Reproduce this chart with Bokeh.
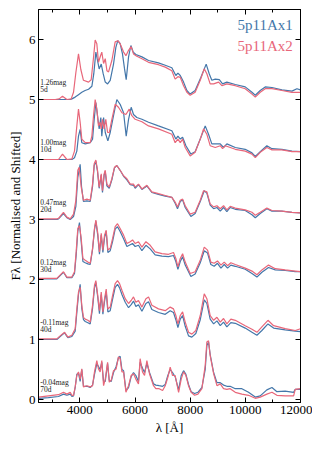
from bokeh.plotting import figure
from bokeh.models import (ColumnDataSource, Range1d, LinearAxis, SingleIntervalTicker, Label,
                          CustomJSTickFormatter)
from bokeh.core.properties import value
from bokeh.embed import file_html
from bokeh.resources import INLINE

# ---- data: (wavelength [A], normalised flux) ----
ax1_5d = [(2500,0),(3650,0),(3710,0.01),(3830,0.04),(3950,0.08),(4070,0.12),(4190,0.15),(4315,0.17),(4435,0.22),(4505,0.43),(4580,0.79),(4640,0.65),(4700,0.51),(4775,0.59),(4845,0.43),(4920,0.29),(5005,0.26),(5100,0.32),(5220,0.59),(5305,0.87),(5375,0.98),(5460,0.93),(5545,0.76),(5620,0.51),(5680,0.33),(5765,0.71),(5850,0.9),(5935,0.79),(6030,0.75),(6250,0.71),(6490,0.65),(6850,0.61),(7095,0.57),(7335,0.53),(7480,0.4),(7555,0.44),(7640,0.4),(7760,0.29),(7880,0.15),(8000,0.09),(8180,0.15),(8390,0.37),(8580,0.59),(8690,0.43),(8785,0.32),(8910,0.34),(9055,0.33),(9175,0.26),(9330,0.29),(9635,0.25),(9995,0.21),(10240,0.12),(10360,0.07),(10540,0.15),(10720,0.21),(10965,0.2),(11325,0.16),(11690,0.14),(11870,0.18),(12000,0.16)]
ax2_5d = [(2500,0),(3105,0),(3250,0.01),(3370,0.055),(3530,0),(3685,0.01),(3770,0.12),(3855,0.45),(3950,0.76),(4035,0.5),(4130,0.32),(4315,0.29),(4410,0.33),(4495,0.7),(4555,0.99),(4615,0.93),(4675,0.62),(4750,0.73),(4795,0.79),(4860,0.6),(4920,0.68),(4980,0.48),(5040,0.46),(5160,0.65),(5280,0.96),(5375,0.98),(5460,0.93),(5585,0.79),(5670,0.73),(5765,0.82),(5860,0.88),(5945,0.76),(6065,0.72),(6250,0.68),(6490,0.62),(6850,0.58),(7095,0.54),(7335,0.48),(7455,0.34),(7555,0.38),(7640,0.37),(7760,0.23),(7880,0.12),(8000,0.07),(8180,0.12),(8365,0.32),(8510,0.51),(8605,0.43),(8725,0.26),(8850,0.26),(9030,0.29),(9150,0.23),(9330,0.26),(9635,0.23),(9995,0.18),(10240,0.09),(10360,0.04),(10540,0.12),(10720,0.18),(10965,0.18),(11325,0.15),(11690,0.12),(12000,0.12)]

ax1_10d = [(2500,0),(3710,0),(3805,0.03),(3890,0.14),(3950,0.39),(4010,0.5),(4070,0.28),(4195,0.26),(4375,0.28),(4460,0.34),(4520,0.67),(4580,0.95),(4640,0.73),(4700,0.51),(4760,0.7),(4795,0.39),(4860,0.7),(4920,0.45),(5015,0.31),(5100,0.45),(5220,0.73),(5340,1.0),(5460,0.92),(5585,0.78),(5680,0.39),(5765,0.67),(5860,0.87),(5945,0.75),(6065,0.7),(6250,0.67),(6490,0.62),(6850,0.56),(7335,0.48),(7480,0.34),(7555,0.39),(7640,0.34),(7725,0.37),(7845,0.23),(8025,0.09),(8180,0.13),(8390,0.37),(8545,0.56),(8665,0.42),(8785,0.26),(8910,0.26),(9090,0.26),(9210,0.2),(9330,0.26),(9635,0.2),(9995,0.17),(10240,0.11),(10360,0.05),(10540,0.13),(10780,0.23),(10965,0.18),(11325,0.17),(11690,0.14),(12000,0.13)]
ax2_10d = [(2500,0),(3225,0),(3370,0.09),(3530,0),(3710,0.01),(3805,0.14),(3890,0.56),(3950,0.84),(4010,0.62),(4070,0.34),(4195,0.28),(4375,0.28),(4435,0.39),(4495,0.73),(4555,1.0),(4615,0.84),(4675,0.56),(4735,0.62),(4775,0.51),(4820,0.67),(4880,0.51),(4940,0.67),(5005,0.45),(5065,0.45),(5160,0.67),(5280,0.92),(5400,0.87),(5525,0.78),(5670,0.75),(5790,0.84),(5885,0.73),(6005,0.67),(6250,0.63),(6490,0.56),(6850,0.51),(7335,0.42),(7455,0.28),(7555,0.34),(7640,0.28),(7725,0.34),(7820,0.2),(8000,0.06),(8180,0.12),(8365,0.34),(8485,0.51),(8605,0.42),(8725,0.23),(8910,0.2),(9090,0.23),(9175,0.18),(9270,0.23),(9635,0.17),(9995,0.14),(10240,0.09),(10360,0.03),(10540,0.12),(10780,0.2),(10965,0.16),(11325,0.16),(11690,0.13),(12000,0.13)]

ax1_20d = [(2500,0.0),(3165,0.0),(3225,0.01),(3405,0.1),(3530,0.03),(3650,0.0),(3770,0.05),(3855,0.22),(3925,0.7),(4010,0.92),(4060,0.55),(4130,0.3),(4255,0.31),(4375,0.3),(4460,0.55),(4520,0.9),(4580,0.97),(4640,0.8),(4700,0.52),(4775,0.74),(4820,0.45),(4880,0.74),(4920,0.8),(4980,0.56),(5065,0.52),(5160,0.66),(5255,0.86),(5340,0.9),(5460,0.82),(5585,0.72),(5705,0.66),(5825,0.58),(5945,0.57),(6005,0.52),(6125,0.58),(6250,0.5),(6430,0.56),(6610,0.45),(6850,0.42),(7095,0.39),(7335,0.37),(7455,0.27),(7540,0.18),(7640,0.3),(7725,0.33),(7820,0.2),(8025,0.05),(8180,0.1),(8365,0.3),(8510,0.48),(8605,0.44),(8725,0.24),(8850,0.18),(8970,0.2),(9090,0.14),(9210,0.2),(9330,0.13),(9450,0.2),(9635,0.17),(9995,0.15),(10240,0.08),(10360,0.03),(10540,0.1),(10780,0.18),(10965,0.14),(11325,0.14),(11690,0.12),(12000,0.11)]
ax2_20d = [(2500,0.01),(3165,0.01),(3225,0.02),(3405,0.12),(3530,0.04),(3650,0.01),(3770,0.09),(3855,0.32),(3925,0.82),(3975,0.87),(4050,0.54),(4130,0.32),(4255,0.34),(4375,0.32),(4460,0.59),(4520,0.93),(4580,0.99),(4640,0.82),(4700,0.54),(4775,0.76),(4820,0.48),(4880,0.76),(4920,0.82),(4980,0.59),(5065,0.54),(5160,0.68),(5255,0.87),(5340,0.9),(5460,0.82),(5585,0.73),(5705,0.68),(5825,0.59),(5945,0.59),(6005,0.54),(6125,0.59),(6250,0.51),(6430,0.57),(6610,0.46),(6850,0.43),(7095,0.4),(7335,0.37),(7455,0.29),(7540,0.21),(7640,0.32),(7725,0.34),(7820,0.23),(8000,0.09),(8180,0.12),(8365,0.32),(8485,0.48),(8605,0.46),(8725,0.26),(8850,0.21),(8970,0.23),(9090,0.18),(9210,0.23),(9330,0.16),(9450,0.22),(9635,0.19),(9995,0.16),(10240,0.12),(10360,0.07),(10540,0.12),(10780,0.19),(10965,0.15),(11325,0.14),(11690,0.12),(12000,0.11)]

ax1_30d = [(2500,0.01),(3165,0.01),(3405,0.12),(3530,0.03),(3710,0.03),(3805,0.1),(3865,0.4),(3925,0.8),(3985,0.95),(4050,0.62),(4110,0.3),(4195,0.28),(4290,0.26),(4375,0.25),(4460,0.5),(4530,0.83),(4580,0.97),(4650,0.73),(4710,0.42),(4775,0.74),(4835,0.45),(4895,0.7),(4955,0.8),(5015,0.45),(5100,0.48),(5185,0.63),(5280,0.84),(5365,0.88),(5460,0.8),(5585,0.68),(5705,0.55),(5825,0.58),(5910,0.6),(6005,0.55),(6125,0.57),(6250,0.48),(6395,0.57),(6550,0.51),(6730,0.41),(6975,0.39),(7215,0.38),(7395,0.4),(7480,0.3),(7555,0.17),(7640,0.3),(7725,0.38),(7820,0.24),(8025,0.05),(8180,0.09),(8365,0.28),(8510,0.48),(8630,0.44),(8750,0.25),(8870,0.22),(8990,0.27),(9115,0.19),(9235,0.25),(9355,0.19),(9475,0.24),(9635,0.22),(9995,0.17),(10240,0.1),(10420,0.04),(10600,0.12),(10840,0.2),(11085,0.16),(11445,0.15),(11810,0.13),(12000,0.13)]
ax2_30d = [(2500,0.02),(3165,0.02),(3405,0.13),(3530,0.04),(3710,0.04),(3805,0.13),(3865,0.46),(3925,0.85),(3985,0.9),(4050,0.68),(4110,0.35),(4195,0.32),(4290,0.29),(4375,0.27),(4460,0.52),(4530,0.85),(4580,0.99),(4650,0.77),(4710,0.46),(4775,0.77),(4835,0.49),(4895,0.74),(4955,0.82),(5015,0.49),(5100,0.52),(5185,0.68),(5280,0.88),(5365,0.93),(5460,0.85),(5585,0.74),(5705,0.6),(5825,0.63),(5910,0.66),(6005,0.6),(6125,0.63),(6250,0.54),(6395,0.63),(6550,0.57),(6730,0.46),(6975,0.43),(7215,0.42),(7395,0.45),(7480,0.35),(7555,0.21),(7640,0.35),(7725,0.43),(7820,0.29),(8000,0.1),(8180,0.13),(8365,0.32),(8510,0.54),(8630,0.49),(8750,0.29),(8870,0.27),(8990,0.31),(9115,0.24),(9235,0.29),(9355,0.23),(9475,0.28),(9635,0.25),(9995,0.19),(10240,0.14),(10420,0.08),(10600,0.16),(10840,0.24),(11085,0.18),(11445,0.16),(11810,0.14),(12000,0.13)]

ax1_40d = [(2500,0.0),(3165,0.0),(3285,0.05),(3445,0.11),(3565,0.03),(3710,0.05),(3830,0.14),(3890,0.45),(3950,0.75),(4010,0.92),(4070,0.52),(4130,0.33),(4195,0.3),(4290,0.28),(4375,0.26),(4460,0.52),(4530,0.86),(4580,0.95),(4650,0.7),(4710,0.43),(4775,0.75),(4835,0.42),(4895,0.64),(4955,0.8),(5015,0.46),(5100,0.48),(5185,0.67),(5280,0.87),(5365,0.92),(5440,0.86),(5525,0.75),(5645,0.62),(5765,0.53),(5860,0.58),(5945,0.64),(6030,0.55),(6125,0.58),(6250,0.47),(6395,0.6),(6490,0.63),(6610,0.5),(6850,0.45),(7095,0.42),(7275,0.48),(7395,0.45),(7480,0.33),(7555,0.2),(7640,0.34),(7725,0.4),(7820,0.22),(7940,0.06),(8060,0.04),(8205,0.1),(8365,0.33),(8510,0.66),(8605,0.6),(8725,0.34),(8850,0.26),(8970,0.31),(9090,0.23),(9210,0.29),(9330,0.21),(9475,0.28),(9635,0.27),(9995,0.19),(10240,0.12),(10420,0.07),(10600,0.15),(10820,0.26),(11025,0.19),(11445,0.16),(11810,0.14),(12000,0.13)]
ax2_40d = [(2500,0.01),(3165,0.01),(3285,0.06),(3445,0.12),(3565,0.04),(3710,0.07),(3830,0.18),(3890,0.51),(3950,0.79),(4010,0.87),(4070,0.57),(4130,0.37),(4195,0.34),(4290,0.32),(4375,0.29),(4460,0.57),(4530,0.9),(4580,0.98),(4650,0.73),(4710,0.48),(4775,0.79),(4835,0.46),(4895,0.68),(4955,0.84),(5015,0.51),(5100,0.54),(5185,0.73),(5280,0.93),(5365,0.98),(5440,0.93),(5525,0.82),(5645,0.68),(5765,0.6),(5860,0.65),(5945,0.71),(6030,0.62),(6125,0.65),(6250,0.54),(6395,0.68),(6490,0.71),(6610,0.57),(6850,0.51),(7095,0.48),(7275,0.54),(7395,0.51),(7480,0.4),(7555,0.26),(7640,0.4),(7725,0.46),(7820,0.29),(7940,0.12),(8060,0.09),(8205,0.15),(8365,0.4),(8510,0.76),(8605,0.68),(8725,0.4),(8850,0.32),(8970,0.37),(9090,0.29),(9210,0.35),(9330,0.26),(9475,0.34),(9635,0.32),(9995,0.23),(10240,0.17),(10420,0.12),(10600,0.21),(10820,0.32),(11025,0.23),(11445,0.18),(11810,0.15),(12000,0.18)]

ax1_70d = [(2500,0.02),(2860,0.03),(3225,0.05),(3405,0.09),(3530,0.07),(3650,0.09),(3710,0.05),(3770,0.06),(3830,0.2),(3890,0.42),(3950,0.44),(4010,0.3),(4070,0.5),(4130,0.22),(4255,0.22),(4375,0.2),(4460,0.24),(4530,0.42),(4615,0.6),(4675,0.55),(4735,0.5),(4795,0.62),(4860,0.3),(4920,0.3),(5005,0.6),(5065,0.32),(5135,0.3),(5220,0.45),(5315,0.55),(5400,0.7),(5460,0.72),(5525,0.5),(5585,0.48),(5670,0.15),(5765,0.2),(5860,0.38),(5945,0.45),(6030,0.4),(6125,0.3),(6185,0.62),(6270,0.52),(6345,0.45),(6430,0.6),(6525,0.45),(6670,0.26),(6755,0.24),(6875,0.23),(7000,0.22),(7095,0.25),(7190,0.4),(7275,0.5),(7360,0.45),(7455,0.38),(7580,0.16),(7675,0.4),(7760,0.48),(7845,0.42),(7940,0.25),(8035,0.13),(8160,0.1),(8280,0.12),(8425,0.2),(8545,0.5),(8605,0.9),(8665,0.96),(8725,0.75),(8850,0.45),(8970,0.28),(9090,0.28),(9210,0.24),(9330,0.22),(9450,0.22),(9635,0.18),(9875,0.18),(10115,0.12),(10360,0.04),(10540,0.06),(10780,0.16),(10965,0.2),(11145,0.13),(11445,0.14),(11750,0.12),(11810,0.17),(12000,0.17)]
ax2_70d = [(2500,0.04),(2860,0.06),(3225,0.08),(3405,0.12),(3530,0.09),(3650,0.12),(3710,0.07),(3770,0.07),(3830,0.21),(3890,0.4),(3950,0.46),(4010,0.34),(4070,0.51),(4130,0.21),(4255,0.23),(4375,0.21),(4460,0.23),(4530,0.46),(4615,0.65),(4675,0.51),(4735,0.46),(4795,0.65),(4860,0.23),(4920,0.34),(5005,0.62),(5065,0.29),(5135,0.32),(5220,0.48),(5315,0.51),(5400,0.71),(5460,0.68),(5525,0.46),(5585,0.46),(5670,0.12),(5765,0.23),(5860,0.4),(5945,0.43),(6030,0.34),(6125,0.26),(6185,0.68),(6270,0.46),(6345,0.4),(6430,0.65),(6525,0.43),(6670,0.23),(6755,0.18),(6875,0.18),(7000,0.15),(7095,0.23),(7190,0.37),(7275,0.54),(7360,0.4),(7455,0.4),(7580,0.12),(7675,0.34),(7760,0.46),(7845,0.4),(7940,0.23),(8035,0.12),(8160,0.07),(8280,0.09),(8425,0.18),(8545,0.57),(8605,0.96),(8665,0.98),(8725,0.73),(8850,0.43),(8970,0.23),(9090,0.26),(9210,0.18),(9330,0.17),(9450,0.18),(9635,0.12),(9875,0.09),(10115,0.07),(10360,0.02),(10540,0.04),(10780,0.09),(10965,0.12),(11145,0.07),(11445,0.06),(11750,0.06),(11810,0.17),(12000,0.18)]

epochs = ["5d", "10d", "20d", "30d", "40d", "70d"]
mags = ["1.26mag", "1.00mag", "0.47mag", "0.12mag", "-0.11mag", "-0.04mag"]
offsets = [5, 4, 3, 2, 1, 0]
series_ax1 = [ax1_5d, ax1_10d, ax1_20d, ax1_30d, ax1_40d, ax1_70d]
series_ax2 = [ax2_5d, ax2_10d, ax2_20d, ax2_30d, ax2_40d, ax2_70d]
model_names = ["5p11Ax1", "5p11Ax2"]

BLUE = "#4477AA"
RED = "#E8677A"
SERIF = "Liberation Serif"

p = figure(frame_width=262, frame_height=393, output_backend="svg", toolbar_location=None,
           x_range=Range1d(2500, 12000), y_range=Range1d(-0.05, 6.5),
           min_border_left=38, min_border_right=12, min_border_top=9, min_border_bottom=58,
           background_fill_color="white", border_fill_color="white")
p.grid.visible = False
p.outline_line_color = "black"
p.outline_line_width = 1

for data_list, color in ((series_ax1, BLUE), (series_ax2, RED)):
    for pts, off in zip(data_list, offsets):
        xs = [a for a, b in pts]
        ys = [b + off for a, b in pts]
        p.line(xs, ys, line_color=color, line_width=1.2)

# panel annotations
lab_src = ColumnDataSource(dict(x=[2560] * 6, y1=[o + 0.28 for o in offsets],
                                y2=[o + 0.17 for o in offsets], m=mags, e=epochs))
p.text(x="x", y="y1", text="m", source=lab_src, text_font=value(SERIF),
       text_font_size="7.5px", text_align="left", text_baseline="middle", text_color="#222222")
p.text(x="x", y="y2", text="e", source=lab_src, text_font=value(SERIF),
       text_font_size="7.5px", text_align="left", text_baseline="middle", text_color="#222222")

# legend-like labels
p.add_layout(Label(x=11720, y=6.25, text=model_names[0], text_font=SERIF, text_font_size="15px",
                   text_color=BLUE, text_align="right", text_baseline="middle"))
p.add_layout(Label(x=11720, y=5.9, text=model_names[1], text_font=SERIF, text_font_size="15px",
                   text_color=RED, text_align="right", text_baseline="middle"))

xt = SingleIntervalTicker(interval=2000, num_minor_ticks=2)
yt = SingleIntervalTicker(interval=1, num_minor_ticks=0)

for ax in p.xaxis:
    ax.ticker = xt
    ax.axis_label = "\u03bb [\u00c5]"
for ax in p.yaxis:
    ax.ticker = yt
    ax.axis_label = "F\u03bb [Normalised and Shifted]"

for ax in list(p.xaxis) + list(p.yaxis):
    ax.major_tick_in = 5
    ax.major_tick_out = 0
    ax.minor_tick_in = 3
    ax.minor_tick_out = 0
    ax.axis_line_color = "black"
    ax.major_tick_line_color = "black"
    ax.minor_tick_line_color = "black"
    ax.major_label_text_font = SERIF
    ax.major_label_text_font_size = "13px"
    ax.major_label_text_color = "black"
    ax.axis_label_text_font = SERIF
    ax.axis_label_text_font_size = "13px"
    ax.axis_label_text_font_style = "normal"
    ax.axis_label_text_color = "black"
    ax.major_label_standoff = 3
    ax.axis_label_standoff = 3

blank = CustomJSTickFormatter(code="return '';")
top = LinearAxis(ticker=xt, formatter=blank, major_tick_in=5, major_tick_out=0, minor_tick_in=3,
                 minor_tick_out=0, major_label_standoff=0, axis_line_color="black")
right = LinearAxis(ticker=yt, formatter=CustomJSTickFormatter(code="return '';"), major_tick_in=5,
                   major_tick_out=0, minor_tick_in=0, minor_tick_out=0, major_label_standoff=0,
                   axis_line_color="black")
p.add_layout(top, "above")
p.add_layout(right, "right")

open("out.html", "w").write(file_html(p, INLINE))
